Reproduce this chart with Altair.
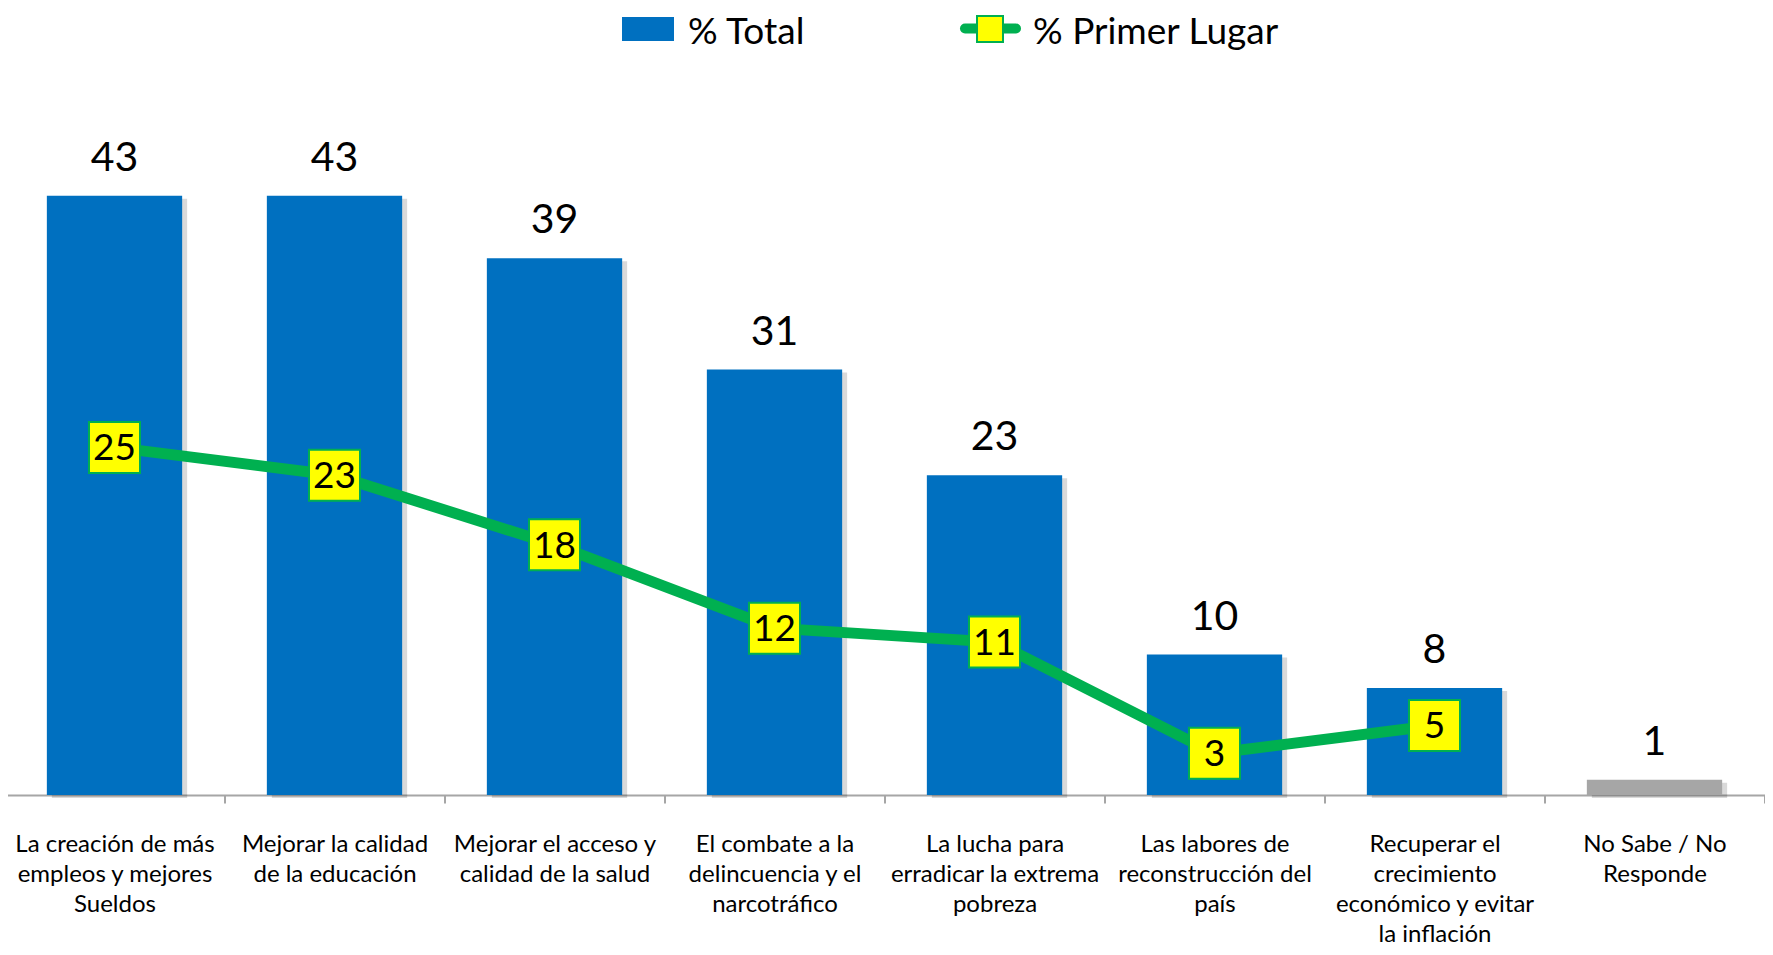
import altair as alt
import pandas as pd

categories = [
    "La creación de más|empleos y mejores|Sueldos",
    "Mejorar la calidad|de la educación",
    "Mejorar el acceso y|calidad de la salud",
    "El combate a la|delincuencia y el|narcotráfico",
    "La lucha para|erradicar la extrema|pobreza",
    "Las labores de|reconstrucción del|país",
    "Recuperar el|crecimiento|económico y evitar|la inflación",
    "No Sabe / No|Responde",
]
# values (labels shown rounded)
total = [43.1, 43.1, 38.6, 30.6, 23.0, 10.1, 7.7, 1.1]
primer = [25, 23, 18, 12, 11, 3, 5, None]
legend_labels = ["% Total", "% Primer Lugar"]

df = pd.DataFrame({"cat": categories, "total": total, "primer": primer})

BLUE = "#0070C0"
GRAY = "#A6A6A6"
GREEN = "#00B050"
YELLOW = "#FFFF00"
FONT = "Lato"
BAR_FRAC = 0.615

yscale = alt.Scale(domain=[0, 56.6], nice=False, zero=True)
xenc = alt.X(
    "cat:N",
    sort=categories,
    scale=alt.Scale(paddingInner=0, paddingOuter=0),
    axis=alt.Axis(
        title=None,
        labelAngle=0,
        labelExpr="split(datum.label, '|')",
        labelFont=FONT,
        labelFontSize=24,
        labelLineHeight=30,
        labelColor="#000000",
        labelPadding=29,
        labelLimit=400,
        domainColor="#A6A6A6",
        domainWidth=2,
        tickColor="#A6A6A6",
        tickWidth=2,
        tickSize=8,
        tickBand="extent",
        grid=False,
    ),
)

base = alt.Chart(df)

shadow = base.mark_bar(
    color="#000000", opacity=0.15, xOffset=5, yOffset=3, y2Offset=-3,
    width=alt.RelativeBandSize(BAR_FRAC),
).encode(x=xenc, y=alt.Y("total:Q", scale=yscale, axis=None))

bars = base.mark_bar(width=alt.RelativeBandSize(BAR_FRAC)).encode(
    x=xenc,
    y=alt.Y("total:Q", scale=yscale, axis=None),
    color=alt.condition("isValid(datum.primer)", alt.value(BLUE), alt.value(GRAY)),
)

bar_labels = base.mark_text(
    font=FONT, fontSize=41, baseline="alphabetic", dy=-25, color="#000000"
).encode(
    x=xenc,
    y=alt.Y("total:Q", scale=yscale, axis=None),
    text=alt.Text("total:Q", format=".0f"),
)

lined = base.transform_filter("isValid(datum.primer)")

line = lined.mark_line(color=GREEN, strokeWidth=11).encode(
    x=xenc, y=alt.Y("primer:Q", scale=yscale, axis=None)
)

squares = lined.mark_square(
    size=2601, fill=YELLOW, stroke=GREEN, strokeWidth=2, opacity=1
).encode(x=xenc, y=alt.Y("primer:Q", scale=yscale, axis=None))

sq_labels = lined.mark_text(
    font=FONT, fontSize=37, baseline="alphabetic", dy=13, color="#000000"
).encode(x=xenc, y=alt.Y("primer:Q", scale=yscale, axis=None), text="primer:Q")

# legend
leg1 = alt.Chart(pd.DataFrame({"label": [legend_labels[0]]}))
leg2 = alt.Chart(pd.DataFrame({"label": [legend_labels[1]]}))

leg_rect = leg1.mark_rect(color=BLUE).encode(
    x=alt.value(617.5), x2=alt.value(669.5), y=alt.value(9), y2=alt.value(33)
)
leg_text1 = leg1.mark_text(
    font=FONT, fontSize=37, align="left", baseline="alphabetic", color="#000000"
).encode(x=alt.value(683.5), y=alt.value(36), text="label:N")
leg_line = leg2.mark_rule(color=GREEN, strokeWidth=10, strokeCap="round").encode(
    x=alt.value(960.5), x2=alt.value(1011.5), y=alt.value(20.5)
)
leg_sq = leg2.mark_square(
    size=676, fill=YELLOW, stroke=GREEN, strokeWidth=2, opacity=1
).encode(x=alt.value(985.5), y=alt.value(21))
leg_text2 = leg2.mark_text(
    font=FONT, fontSize=37, align="left", baseline="alphabetic", color="#000000"
).encode(x=alt.value(1028.5), y=alt.value(36), text="label:N")

chart = alt.layer(
    shadow, bars, bar_labels, line, squares, sq_labels,
    leg_rect, leg_text1, leg_line, leg_sq, leg_text2,
).properties(
    width=1760,
    height=787,
    autosize=alt.AutoSizeParams(type="none"),
    padding={"left": -3.5, "top": 0, "right": 0, "bottom": 152},
).configure(background="white").configure_view(stroke=None)

chart.save("out.html", embed_options={"renderer": "svg", "actions": False})
